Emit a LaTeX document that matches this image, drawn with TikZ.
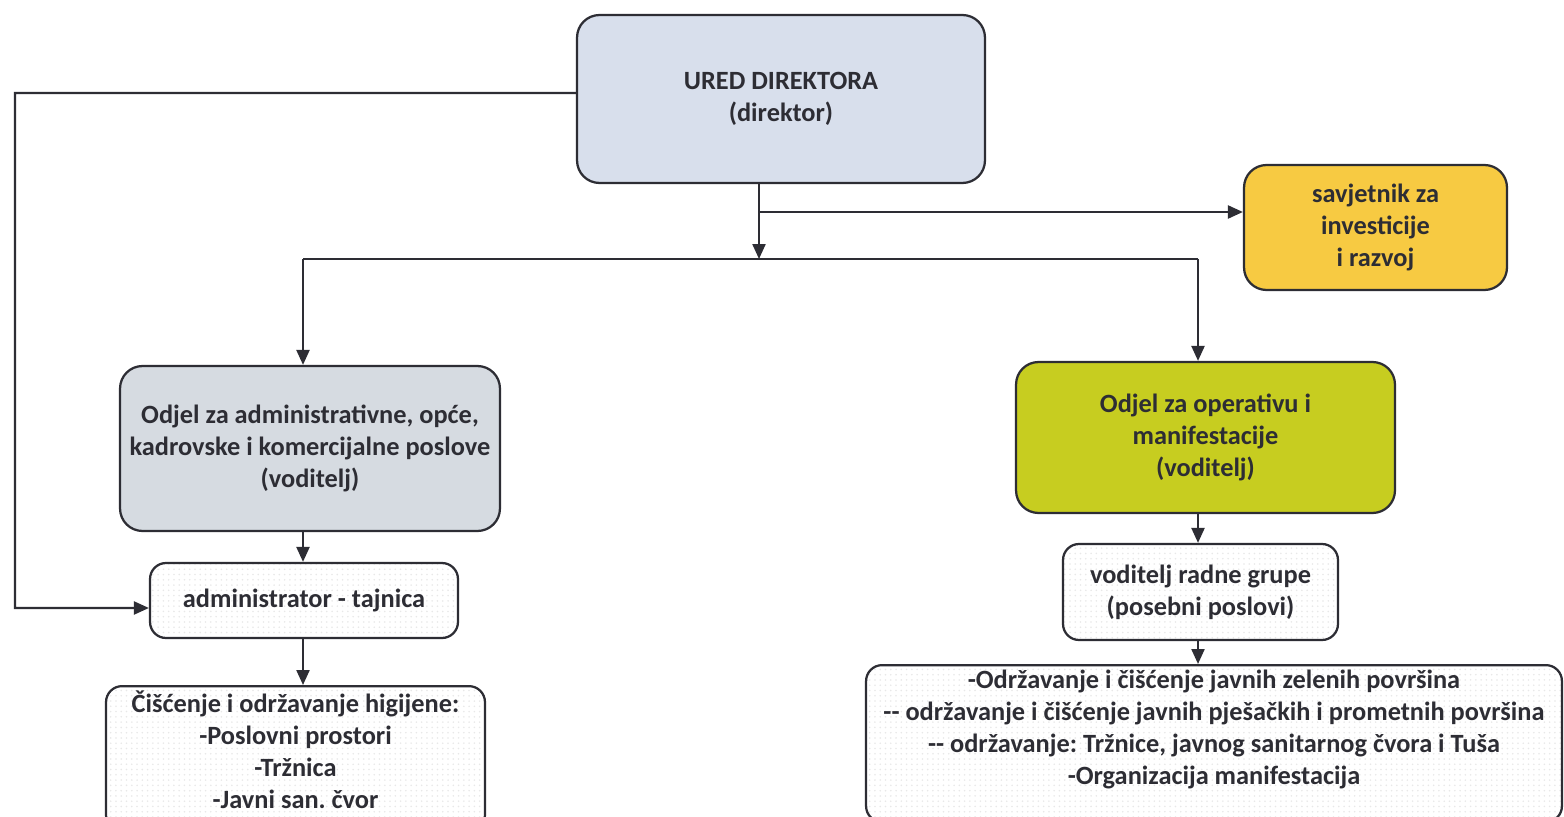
\documentclass[tikz,border=0pt]{standalone}
\usepackage{fontspec}
\setmainfont{Carlito}
\usepackage{tikz}
\usetikzlibrary{arrows.meta,patterns}
\frenchspacing

\definecolor{uredblue}{RGB}{216,223,236}
\definecolor{savjyellow}{RGB}{247,202,66}
\definecolor{admgray}{RGB}{214,219,225}
\definecolor{opgreen}{RGB}{199,205,32}
\definecolor{ink}{RGB}{45,45,52}

\tikzset{
  box/.style={draw=ink, line width=0.045cm, rounded corners=0.45cm, align=center,
    text=ink, font=\bfseries\fontsize{15pt}{18.2pt}\selectfont, inner sep=0.1cm},
  plainbox/.style={box, rounded corners=0.32cm, preaction={fill=white},
    pattern=dots, pattern color=gray!18},
  link/.style={draw=ink, line width=0.045cm},
  arr/.style={link, -{Triangle[length=0.3cm,width=0.26cm]}}
}

\begin{document}
\begin{tikzpicture}[x=0.02cm, y=-0.02cm]
        \useasboundingbox (0,0) rectangle (1564,817);
        \fill[white] (0,0) rectangle (1564,817);
        % columns of the two departments
        \coordinate (colL) at (303,0);
        \coordinate (colR) at (1198,0);
        \coordinate (lft) at (15,93);
        \coordinate (tap) at (759,212);
        \coordinate (split) at (759,259);

        \node[box, fill=uredblue, minimum width=8.16cm, minimum height=3.36cm] (ured) at (781,99)
          {URED DIREKTORA\\(direktor)};
        \node[box, fill=savjyellow, minimum width=5.26cm, minimum height=2.5cm] (savj) at (1375.5,227.5)
          {savjetnik za\\investicije\\i razvoj};
        \node[box, fill=admgray, minimum width=7.6cm, minimum height=3.3cm] (odjadm) at (310,448.5)
          {Odjel za administrativne, opće,\\kadrovske i komercijalne poslove\\(voditelj)};
        \node[box, fill=opgreen, minimum width=7.58cm, minimum height=3.02cm] (odjop) at (1205.5,437.5)
          {Odjel za operativu i\\manifestacije\\(voditelj)};
        \node[plainbox, minimum width=6.16cm, minimum height=1.5cm] (tajn) at (304,600.5)
          {administrator - tajnica};
        \node[plainbox, minimum width=5.5cm, minimum height=1.92cm] (vodgr) at (1200.5,592)
          {voditelj radne grupe\\(posebni poslovi)};
        \node[plainbox, anchor=north, minimum width=7.58cm, text depth=0.35cm] (cisc) at (295.5,685)
          {Čišćenje i održavanje higijene:\\-Poslovni prostori\\-Tržnica\\-Javni san. čvor};
        \node[plainbox, anchor=north, minimum width=13.92cm, inner ysep=0.1cm, text depth=0.65cm] (ops) at (1214,664)
          {-Održavanje i čišćenje javnih zelenih površina\\{-}{-} održavanje i čišćenje javnih pješačkih i prometnih površina\\{-}{-} održavanje: Tržnice, javnog sanitarnog čvora i Tuša\\-Organizacija manifestacija};

        \draw[arr] ([yshift=0.12cm]ured.west) -- (lft) |- ([yshift=-0.15cm]tajn.west);
        \draw[arr] (ured.south -| split) -- (split);
        \draw[arr] (tap) -- (tap -| savj.west);
        \draw[link] (split -| colL) -- (split -| colR);
        \draw[arr] (split -| colL) -- (odjadm.north -| colL);
        \draw[arr] (split -| colR) -- (odjop.north -| colR);
        \draw[arr] (odjadm.south -| colL) -- (tajn.north -| colL);
        \draw[arr] (tajn.south -| colL) -- (cisc.north -| colL);
        \draw[arr] (odjop.south -| colR) -- (vodgr.north -| colR);
        \draw[arr] (vodgr.south -| colR) -- (ops.north -| colR);
      \end{tikzpicture}
\end{document}
